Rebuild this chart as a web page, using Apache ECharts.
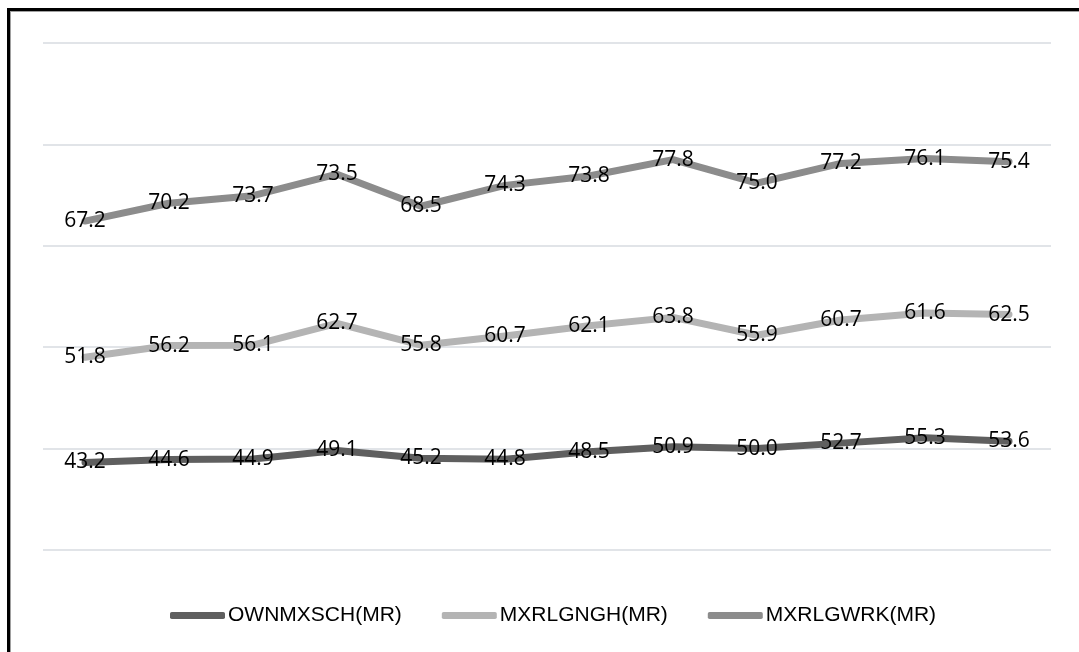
<!DOCTYPE html>
<html>
<head>
<meta charset="utf-8">
<script src="https://cdn.jsdelivr.net/npm/echarts@6/dist/echarts.min.js"></script>
<style>
  html, body { margin: 0; padding: 0; background: #fff; overflow: hidden; }
  #wrap { position: relative; width: 1079px; height: 652px; }
  #chart { position: absolute; left: 0; top: 0; width: 1079px; height: 652px; }
  #frame { position: absolute; left: 7px; top: 8px; width: 2000px; height: 2000px;
           border-left: 3px solid #000; border-top: 3px solid #000;
           box-shadow: inset 1px 1px 0 #a0a0a0; pointer-events: none; }
</style>
</head>
<body>
<div id="wrap">
  <div id="chart"></div>
  <div id="frame"></div>
</div>
<script>
const categories = ['1','2','3','4','5','6','7','8','9','10','11','12'];
const seriesNames = ['OWNMXSCH(MR)', 'MXRLGNGH(MR)', 'MXRLGWRK(MR)'];
const ownmxsch = [43.2, 44.6, 44.9, 49.1, 45.2, 44.8, 48.5, 50.9, 50.0, 52.7, 55.3, 53.6];
const mxrlgngh = [51.8, 56.2, 56.1, 62.7, 55.8, 60.7, 62.1, 63.8, 55.9, 60.7, 61.6, 62.5];
const mxrlgwrk = [67.2, 70.2, 73.7, 73.5, 68.5, 74.3, 73.8, 77.8, 75.0, 77.2, 76.1, 75.4];
const colors = ['#5f5f5f', '#b4b4b4', '#8c8c8c'];
const FONT = 'Open Sans';
const LEGEND_FONT = 'Liberation Sans';

const chart = echarts.init(document.getElementById('chart'), null, { renderer: 'canvas' });
function mk(name, data, color) {
  return {
    name: name, type: 'line', stack: 'total', data: data,
    symbol: 'circle', symbolSize: 1, showSymbol: true,
    lineStyle: { width: 7, color: color, cap: 'round', join: 'round' },
    itemStyle: { color: color },
    label: { show: true, position: 'inside', offset: [0, 3], color: '#000', fontFamily: FONT, fontSize: 21,
             formatter: p => p.value.toFixed(1) },
    labelLayout: { hideOverlap: false },
    emphasis: { disabled: true },
    animation: false
  };
}
chart.setOption({
  animation: false,
  grid: { left: 43, right: 28, top: 43, bottom: 102, containLabel: false },
  xAxis: {
    type: 'category', data: categories, boundaryGap: true,
    axisLine: { show: false }, axisTick: { show: false }, axisLabel: { show: false },
    splitLine: { show: false }
  },
  yAxis: {
    type: 'value', min: 0, max: 250, interval: 50,
    axisLine: { show: false }, axisTick: { show: false }, axisLabel: { show: false },
    splitLine: { show: true, lineStyle: { color: '#e1e4e8', width: 2 } }
  },
  legend: {
    bottom: 21, left: 165, itemWidth: 55, itemHeight: 7, itemGap: 40,
    icon: 'roundRect',
    textStyle: { fontFamily: LEGEND_FONT, fontSize: 21, color: '#000', padding: [0, 0, 0, -2] },
    data: seriesNames
  },
  series: [
    mk(seriesNames[0], ownmxsch, colors[0]),
    mk(seriesNames[1], mxrlgngh, colors[1]),
    mk(seriesNames[2], mxrlgwrk, colors[2])
  ]
});
</script>
</body>
</html>
